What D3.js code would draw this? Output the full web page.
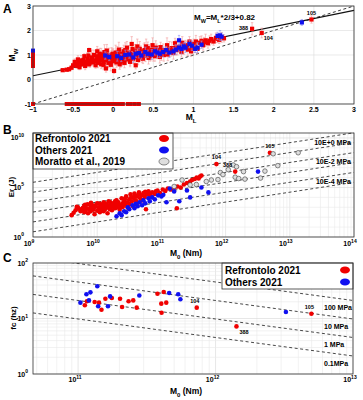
<!DOCTYPE html>
<html>
<head>
<meta charset="utf-8">
<script src="https://cdn.jsdelivr.net/npm/d3@7"></script>
<style>
  body { margin: 0; background: #fff; }
  text { font-family: "Liberation Sans", Arial, sans-serif; }
</style>
</head>
<body>
<svg id="fig" width="363" height="400"></svg>
<script>
// ---------- Panel A : Mw vs ML  ([ML, Mw, error]) ----------
const redA = [
  [-0.63,0.38,0.05],[-0.58,0.40,0.05],[-0.55,0.42,0.08],[-0.50,0.58,0.10],[-0.47,0.65,0.12],
  [-0.45,0.55,0.08],[-0.43,0.70,0.15],[-0.40,0.62,0.10],[-0.40,0.78,0.20],[-0.38,0.68,0.12],
  [-0.36,0.95,0.10],[-0.35,0.55,0.15],[-0.33,0.72,0.18],[-0.32,0.85,0.25],[-0.30,0.62,0.10],
  [-0.30,1.20,0.08],[-0.28,0.78,0.20],[-0.27,0.90,0.30],[-0.25,0.70,0.15],[-0.24,1.00,0.20],
  [-0.22,0.58,0.12],[-0.21,0.82,0.25],[-0.20,0.95,0.30],[-0.19,0.68,0.20],[-0.18,0.75,0.15],
  [-0.17,1.05,0.22],[-0.16,0.88,0.28],[-0.15,0.62,0.18],[-0.14,0.80,0.30],[-0.13,0.95,0.20],
  [-0.12,0.72,0.25],[-0.11,1.12,0.30],[-0.10,0.85,0.20],[-0.09,0.45,0.15],[-0.08,0.78,0.25],
  [-0.07,0.92,0.30],[-0.06,0.68,0.20],[-0.05,1.00,0.28],[-0.04,0.82,0.20],[-0.03,0.60,0.25],
  [-0.02,0.88,0.30],[-0.01,1.05,0.20],[0.00,0.75,0.25],[0.00,0.95,0.30],[0.01,0.35,0.10],
  [0.02,0.85,0.25],[0.03,1.10,0.30],[0.04,0.70,0.20],[0.05,0.92,0.28],[0.06,0.80,0.22],
  [0.07,1.22,0.30],[0.08,0.62,0.20],[0.08,0.98,0.25],[0.09,0.86,0.30],[0.10,1.05,0.25],
  [0.11,0.75,0.20],[0.12,0.90,0.30],[0.13,1.15,0.25],[0.14,0.68,0.20],[0.15,0.95,0.30],
  [0.16,0.82,0.22],[0.17,1.30,0.25],[0.18,1.00,0.30],[0.19,0.88,0.20],[0.20,1.10,0.28],
  [0.21,0.72,0.20],[0.22,0.96,0.25],[0.23,1.45,0.30],[0.24,1.05,0.25],[0.25,0.85,0.20],
  [0.26,0.92,0.30],[0.27,1.18,0.25],[0.28,0.58,0.15],[0.29,1.00,0.25],[0.30,1.08,0.30],
  [0.31,0.80,0.20],[0.32,0.95,0.25],[0.33,1.25,0.30],[0.35,1.02,0.25],[0.36,0.90,0.20],
  [0.38,1.15,0.30],[0.40,0.98,0.25],[0.41,1.35,0.30],[0.42,1.05,0.20],[0.44,0.88,0.25],
  [0.45,1.12,0.30],[0.47,1.00,0.20],[0.48,1.22,0.25],[0.50,1.05,0.30],[0.52,0.95,0.20],
  [0.53,1.30,0.28],[0.55,1.10,0.25],[0.57,1.18,0.20],[0.58,0.92,0.25],[0.60,1.08,0.30],
  [0.62,1.20,0.25],[0.65,1.12,0.20],[0.68,1.02,0.25],[0.70,1.25,0.30],[0.72,1.15,0.20],
  [0.75,1.08,0.25],[0.78,1.30,0.30],[0.80,1.20,0.20],[0.83,1.35,0.25],[0.85,1.12,0.20],
  [0.88,1.28,0.25],[0.90,1.40,0.20],[0.93,1.22,0.25],[0.95,1.55,0.20],[0.98,1.30,0.25],
  [1.00,1.45,0.20],[1.02,1.35,0.25],[1.05,1.25,0.20],[1.08,1.50,0.25],[1.10,1.58,0.20],
  [1.12,1.40,0.20],[1.15,1.60,0.25],[1.18,1.48,0.20],[1.22,1.65,0.20],[1.25,1.55,0.15],
  [1.28,1.70,0.20],[1.32,1.62,0.15],[1.35,1.72,0.20],[1.38,1.68,0.15],
  [-0.52,0.48,0.08],[-0.48,0.72,0.12],[-0.44,0.82,0.15],[-0.42,0.50,0.10],[-0.37,0.80,0.20],
  [-0.34,0.66,0.15],[-0.31,0.98,0.25],[-0.29,0.70,0.20],[-0.26,0.84,0.25],[-0.23,0.76,0.20],
  [-0.20,1.15,0.20],[-0.18,0.90,0.30],[-0.15,1.02,0.25],[-0.12,0.60,0.20],[-0.10,0.95,0.30],
  [-0.08,1.18,0.25],[-0.06,0.85,0.30],[-0.04,0.72,0.20],[-0.02,1.00,0.30],[0.01,0.90,0.25],
  [0.03,0.78,0.20],[0.05,1.05,0.30],[0.07,0.88,0.25],[0.09,0.70,0.20],[0.11,1.00,0.30],
  [0.13,0.85,0.25],[0.15,1.20,0.30],[0.17,0.92,0.20],[0.19,1.05,0.25],[0.21,0.88,0.30],
  [0.24,1.25,0.25],[0.27,0.95,0.20],[0.30,1.35,0.30],[0.34,1.12,0.25],[0.37,0.85,0.20],
  [0.39,1.20,0.30],[0.43,1.28,0.25],[0.46,0.95,0.20],[0.49,1.40,0.30],[0.54,1.20,0.25],
  [0.59,1.32,0.20],[0.63,1.00,0.25],[0.67,1.40,0.30],[0.73,1.28,0.25],[0.77,1.48,0.20],
  [0.86,1.50,0.25],[0.92,1.35,0.20],[0.97,1.15,0.20],[1.03,1.55,0.25],[1.13,1.52,0.20],
  [1.20,1.58,0.20],[1.30,1.66,0.15],
  [1.73,2.07,0.25],[1.85,1.90,0.20],[2.47,2.45,0.15]
];
const blueA = [
  [-0.10,0.98,0.15],[-0.05,0.92,0.15],[0.05,0.95,0.20],[0.10,0.88,0.15],[0.15,1.00,0.20],
  [0.20,1.02,0.15],[0.25,0.90,0.20],[0.28,1.05,0.15],[0.32,1.08,0.20],[0.35,0.98,0.15],
  [0.40,1.12,0.20],[0.43,1.05,0.15],[0.48,1.02,0.20],[0.52,1.15,0.15],[0.55,1.10,0.20],
  [0.58,1.05,0.15],[0.62,1.12,0.20],[0.66,1.20,0.15],[0.70,1.10,0.20],[0.75,1.15,0.15],
  [0.78,1.22,0.20],[0.82,1.60,0.20],[0.82,1.30,0.15],[0.85,1.25,0.20],[0.88,1.35,0.15],
  [0.90,1.30,0.20],[0.95,1.45,0.15],[0.98,1.38,0.20],[1.02,1.25,0.15],[1.05,1.30,0.20],
  [1.10,1.42,0.15],[1.30,1.78,0.15],[1.33,1.80,0.20],[1.35,1.75,0.15],[2.35,2.33,0.12]
];
const redA_noML = [0.55,0.60,0.65,0.70,0.75,0.80,0.85,0.90,0.95,1.00,1.05,-1.0];   // Mw with no ML
const blueA_noML = [1.18];
const redA_noMw = [-0.58,-0.55,-0.52,-0.49,-0.46,-0.43,-0.40,-0.37,-0.34,-0.31,-0.28,-0.25,
  -0.22,-0.19,-0.16,-0.13,-0.10,-0.07,-0.04,-0.01,0.02,0.05,0.08,0.12,0.18,0.22,0.27,0.32]; // ML with no Mw
const labelsA = [["388",1.73,2.07],["104",1.85,1.90],["105",2.47,2.45]];

// ---------- Panel B : Er vs M0 ----------
const redB = [
  [4.0e9,160],[4.3e9,280],[4.6e9,500],[4.8e9,1100],[5.0e9,1000],[5.2e9,710],[5.5e9,400],
  [5.8e9,560],[6.0e9,890],[6.3e9,320],[6.3e9,1400],[6.6e9,500],[6.9e9,790],[7.1e9,2000],
  [7.2e9,250],[7.6e9,630],[7.9e9,1100],[7.9e9,400],[8.3e9,1600],[8.7e9,560],[8.9e9,890],
  [9.1e9,200],[9.5e9,1260],[1.0e10,450],[1.0e10,2500],[1.05e10,710],[1.07e10,1000],
  [1.1e10,320],[1.15e10,1800],[1.17e10,560],[1.2e10,890],[1.26e10,3200],[1.26e10,400],
  [1.32e10,1260],[1.35e10,710],[1.41e10,2000],[1.45e10,250],[1.48e10,1000],[1.51e10,4000],
  [1.58e10,630],[1.58e10,1600],[1.66e10,1100],[1.7e10,500],[1.78e10,2500],[1.82e10,1400],
  [1.9e10,800],[2.0e10,5000],[2.0e10,2000],[2.1e10,1000],[2.14e10,3200],[2.24e10,560],
  [2.3e10,1600],[2.4e10,8000],[2.5e10,2500],[2.5e10,1100],[2.63e10,4000],[2.75e10,1800],
  [2.82e10,12600],[2.95e10,3200],[3.0e10,900],[3.16e10,6300],[3.16e10,2200],[3.3e10,20000],
  [3.47e10,4000],[3.55e10,1400],[3.7e10,9000],[3.8e10,25000],[4.0e10,5000],[4.17e10,12600],
  [4.27e10,2800],[4.47e10,32000],[4.68e10,8000],[4.9e10,16000],[5.0e10,5000],[5.25e10,28000],
  [5.5e10,11000],[5.75e10,630],[6.0e10,20000],[6.3e10,40000],[6.8e10,14000],[7.2e10,32000],
  [7.9e10,22000],[8.7e10,50000],[9.5e10,28000],[1.05e11,63000],[1.15e11,45000],[1.26e11,80000],
  [1.41e11,63000],[1.6e11,100000],[1.74e11,800],[1.78e11,126000],[2.0e11,100000],
  [2.24e11,200000],[2.5e11,280000],[2.8e11,400000],[3.0e11,560000],[3.3e11,710000],
  [3.55e11,1.0e6],[3.8e11,800000],[4.0e11,1.26e6],[4.2e11,1.6e6],
  [6.5e9,1800],[8.0e9,2800],[9.0e9,1500],[1.1e10,2200],[1.3e10,2600],[1.6e10,3200],
  [1.9e10,4000],[2.2e10,1300],[2.7e10,7000],[3.4e10,11000],[3.9e10,16000],[4.5e10,20000],
  [5.6e10,36000],[6.5e10,25000],[8.2e10,40000],
  [7.2e11,2.3e7],[1.41e12,4.0e6],[4.9e12,3.2e8]
];
const blueB = [
  [2.0e10,126],[2.24e10,250],[2.4e10,160],[2.63e10,400],[2.82e10,320],[3.0e10,1000],
  [3.16e10,630],[3.55e10,1600],[3.8e10,800],[4.0e10,2200],[4.27e10,1260],[4.57e10,3200],
  [5.0e10,1600],[5.25e10,5000],[5.6e10,2500],[6.3e10,8000],[6.6e10,4000],[7.2e10,10000],
  [7.9e10,6300],[8.9e10,16000],[1.0e11,12600],[1.07e11,18000],[1.2e11,3200],[1.35e11,80000],
  [1.58e11,40000],[1.9e11,4000],[2.5e11,50000],[2.8e11,10000],[4.2e11,100000],[5.4e11,32000],
  [3.2e12,4.0e6]
];
const greyB = [
  [1.58e11,126000],[2.1e11,570000],[2.8e11,180000],[3.5e11,200000],[5.0e11,400000],
  [6.0e11,570000],[7.6e11,630000],[8.3e11,3.2e6],[9.1e11,2.0e6],[1.1e12,6.3e6],
  [1.32e12,1.86e7],[1.48e12,1.26e7],[1.41e12,1.1e6],[1.6e12,800000],[1.9e12,4.0e6],
  [2.0e12,700000],[3.5e12,890000],[4.1e12,4.5e6],[5.5e12,2.5e8],[6.5e12,1.6e7],[1.35e13,3.2e8]
];
const labelsB = [["104",7.2e11,2.3e7],["388",1.41e12,4.0e6],["105",4.9e12,3.2e8]];
const stressB = [10, 1, 0.1, 0.01, 0.001, 0.0001];           // apparent stress, MPa
const stressLabelsB = [["10E+0 MPa",1],["10E-2 MPa",0.01],["10E-4 MPa",0.0001]];

// ---------- Panel C : fc vs M0 ----------
const redC = [
  [1.12e11,17.3],[1.16e11,20.4],[1.32e11,19.8],[1.42e11,19.3],[1.48e11,14.4],[1.58e11,22.7],
  [1.76e11,23.4],[2.02e11,22.7],[2.09e11,16.1],[2.33e11,20.4],[2.52e11,21.2],[2.67e11,15.7],
  [3.78e11,28.0],[4.03e11,18.5],[4.05e11,12.7],[4.2e11,30.0],[4.38e11,19.3],
  [7.3e11,15.7],[1.42e12,7.2],[4.98e12,12.2]
];
const blueC = [
  [1.04e11,19.3],[1.15e11,27.3],[1.23e11,29.6],[1.38e11,38.0],[1.40e11,16.6],[1.2e11,21.2],
  [1.65e11,16.6],[1.71e11,25.0],[2.79e11,26.0],[4.6e11,28.8],[5.35e11,27.3],[5.55e11,22.2],
  [3.25e12,13.1]
];
const labelsC = [["104",7.3e11,15.7],["388",1.42e12,7.2],["105",4.98e12,12.2]];
const stressC = [100, 10, 1, 0.1];                              // stress drop, MPa
const stressLabelsC = ["100 MPa","10 MPa","1 MPa","0.1MPa"];

const RED = "#f00000", BLUE = "#1010f0";
const svg = d3.select("#fig");

// superscript tick label like 10^5
function powLabel(t, e) {
  t.text("10");
  t.append("tspan").attr("dy", -3.5).attr("font-size", 5).text(e);
}

function logGrid(g, x, y) {
  const [x0, x1] = x.domain(), [y0, y1] = y.domain();
  const [px0, px1] = x.range(), [py0, py1] = y.range();
  const minor = [];
  for (let k = Math.floor(Math.log10(x0)); k <= Math.ceil(Math.log10(x1)); k++)
    for (let m = 1; m < 10; m++) { const v = m * 10 ** k; if (v >= x0 && v <= x1) minor.push([v, m === 1]); }
  g.selectAll(".gx").data(minor).join("line")
    .attr("x1", d => x(d[0])).attr("x2", d => x(d[0])).attr("y1", py0).attr("y2", py1)
    .attr("stroke", d => d[1] ? "#d6d6d6" : "#e9e9e9").attr("stroke-width", 0.6);
  const minorY = [];
  const span = Math.log10(y1) - Math.log10(y0);
  for (let k = Math.floor(Math.log10(y0)); k <= Math.ceil(Math.log10(y1)); k++)
    for (let m = 1; m < 10; m++) {
      const v = m * 10 ** k;
      if (v < y0 || v > y1) continue;
      if (span > 6 && m !== 1) continue;
      minorY.push([v, span > 6 ? k % 5 === 0 : m === 1]);
    }
  g.selectAll(".gy").data(minorY).join("line")
    .attr("y1", d => y(d[0])).attr("y2", d => y(d[0])).attr("x1", px0).attr("x2", px1)
    .attr("stroke", d => d[1] ? "#d6d6d6" : "#e9e9e9").attr("stroke-width", 0.6);
}

function box(g, x, y) {
  const [px0, px1] = x.range(), [py0, py1] = y.range();
  g.append("rect").attr("x", px0).attr("y", py1).attr("width", px1 - px0).attr("height", py0 - py1)
    .attr("fill", "none").attr("stroke", "#333").attr("stroke-width", 0.8);
}

function panelLetter(t, px, py) {
  svg.append("text").attr("x", px).attr("y", py).attr("font-size", 12).attr("font-weight", "bold").text(t);
}

function subLabel(g, px, py, main, sub, rest, rot) {
  const t = g.append("text").attr("font-size", 8.5).attr("font-weight", "bold").attr("text-anchor", "middle")
    .attr("transform", `translate(${px},${py})` + (rot ? " rotate(-90)" : ""));
  t.append("tspan").text(main);
  t.append("tspan").attr("dy", 2.5).attr("font-size", 6).text(sub);
  if (rest) t.append("tspan").attr("dy", -2.5).text(rest);
}

function square(g, data, x, y, color, errColor) {
  g.selectAll(null).data(data).join("path")
    .attr("d", d => {
      const cx = x(d[0]), t = y(d[1] + d[2]), b = y(d[1] - d[2]);
      return `M${cx},${t}V${b}M${cx - 1.2},${t}H${cx + 1.2}M${cx - 1.2},${b}H${cx + 1.2}`;
    })
    .attr("stroke", errColor).attr("stroke-width", 0.6).attr("fill", "none");
  g.selectAll(null).data(data).join("rect")
    .attr("x", d => x(d[0]) - 2.1).attr("y", d => y(d[1]) - 2.1).attr("width", 4.2).attr("height", 4.2)
    .attr("fill", color);
}

// ======================= Panel A =======================
{
  const x = d3.scaleLinear([-1, 3], [33, 354]);
  const y = d3.scaleLinear([-1, 3], [104, 6]);
  const g = svg.append("g");
  const xt = d3.range(-1, 3.01, 0.5), yt = [-1, 0, 1, 2, 3];
  g.selectAll(".gx").data(xt).join("line").attr("x1", x).attr("x2", x).attr("y1", 6).attr("y2", 104)
    .attr("stroke", "#dcdcdc").attr("stroke-width", 0.6);
  g.selectAll(".gy").data(yt).join("line").attr("y1", y).attr("y2", y).attr("x1", 33).attr("x2", 354)
    .attr("stroke", "#dcdcdc").attr("stroke-width", 0.6);

  // 1:1 line and fit Mw = ML*2/3 + 0.82
  g.append("line").attr("x1", x(-1)).attr("y1", y(-1)).attr("x2", x(3)).attr("y2", y(3))
    .attr("stroke", "#222").attr("stroke-width", 0.9).attr("stroke-dasharray", "3,2.5");
  const fit = ml => ml * 2 / 3 + 0.82;
  g.append("line").attr("x1", x(-1)).attr("y1", y(fit(-1))).attr("x2", x(3)).attr("y2", y(fit(3)))
    .attr("stroke", "#111").attr("stroke-width", 1.1);

  square(g, redA, x, y, RED, "#f29a9a");
  square(g, blueA, x, y, BLUE, "#8f8ff2");
  g.selectAll(null).data(redA_noML).join("rect")
    .attr("x", x(-1) - 2).attr("y", d => y(d) - 2).attr("width", 4).attr("height", 4).attr("fill", RED);
  g.selectAll(null).data(blueA_noML).join("rect")
    .attr("x", x(-1) - 2).attr("y", d => y(d) - 2).attr("width", 4).attr("height", 4).attr("fill", BLUE);
  g.selectAll(null).data(redA_noMw).join("rect")
    .attr("x", d => x(d) - 2).attr("y", y(-1) - 2).attr("width", 4).attr("height", 4).attr("fill", RED);

  g.selectAll(null).data(labelsA).join("text")
    .attr("x", d => x(d[1]) + (d[0] === "104" ? 2 : d[0] === "388" ? -4 : 0))
    .attr("y", d => y(d[2]) + (d[0] === "104" ? 7 : d[0] === "388" ? 1 : -4))
    .attr("text-anchor", d => d[0] === "104" ? "start" : d[0] === "388" ? "end" : "middle")
    .attr("font-size", 5.5).attr("font-weight", "bold").text(d => d[0]);

  const eq = g.append("text").attr("x", 194).attr("y", 20).attr("font-size", 8).attr("font-weight", "bold");
  eq.append("tspan").text("M");
  eq.append("tspan").attr("dy", 2.5).attr("font-size", 5.5).text("W");
  eq.append("tspan").attr("dy", -2.5).text("=M");
  eq.append("tspan").attr("dy", 2.5).attr("font-size", 5.5).text("L");
  eq.append("tspan").attr("dy", -2.5).text("*2/3+0.82");

  box(g, x, y);
  g.selectAll(".xl").data(xt).join("text").attr("x", x).attr("y", 112).attr("text-anchor", "middle")
    .attr("font-size", 7).attr("font-weight", "bold").text(d => d3.format("")(d));
  g.selectAll(".yl").data(yt).join("text").attr("x", 31).attr("y", d => y(d) + 2.5).attr("text-anchor", "end")
    .attr("font-size", 7).attr("font-weight", "bold").text(d => d);
  subLabel(g, 191, 120, "M", "L", "", false);
  subLabel(g, 15, 55, "M", "W", "", true);
  panelLetter("A", 3, 13);
}

// ======================= Panel B =======================
{
  const x = d3.scaleLog([1e9, 1e14], [33, 354]);
  const y = d3.scaleLog([1, 10 ** 10.5], [237, 133]);
  const g = svg.append("g");
  logGrid(g, x, y);
  const mu = 3e10;
  g.selectAll(null).data(stressB).join("line")
    .attr("x1", x(1e9)).attr("y1", d => y(d * 1e6 / mu * 1e9))
    .attr("x2", x(1e14)).attr("y2", d => y(d * 1e6 / mu * 1e14))
    .attr("stroke", "#333").attr("stroke-width", 0.9).attr("stroke-dasharray", "3,2.5");
  g.selectAll(null).data(stressLabelsB).join("text")
    .attr("x", 351).attr("y", d => y(d[1] * 1e6 / mu * 1e14) + 2)
    .attr("text-anchor", "end").attr("font-size", 7).attr("font-weight", "bold").text(d => d[0]);

  g.selectAll(null).data(redB).join("circle").attr("cx", d => x(d[0])).attr("cy", d => y(d[1]))
    .attr("r", 2.3).attr("fill", RED);
  g.selectAll(null).data(blueB).join("circle").attr("cx", d => x(d[0])).attr("cy", d => y(d[1]))
    .attr("r", 2.3).attr("fill", BLUE);
  g.selectAll(null).data(greyB).join("circle").attr("cx", d => x(d[0])).attr("cy", d => y(d[1]))
    .attr("r", 2.3).attr("fill", "#dedede").attr("stroke", "#555").attr("stroke-width", 0.7);
  g.selectAll(null).data(labelsB).join("text")
    .attr("x", d => x(d[1]) + (d[0] === "388" ? -3 : 0)).attr("y", d => y(d[2]) - 5)
    .attr("text-anchor", d => d[0] === "388" ? "end" : "middle")
    .attr("font-size", 5.5).attr("font-weight", "bold").text(d => d[0]);

  // legend
  const lg = g.append("g");
  lg.append("rect").attr("x", 33).attr("y", 133).attr("width", 140).attr("height", 36)
    .attr("fill", "#fff").attr("stroke", "#333").attr("stroke-width", 0.8);
  const items = [["Refrontolo 2021", RED, "none"], ["Others 2021", BLUE, "none"], ["Moratto et al., 2019", "#dedede", "#555"]];
  items.forEach((it, i) => {
    lg.append("text").attr("x", 35).attr("y", 142 + i * 11.5).attr("font-size", 10).attr("font-weight", "bold").text(it[0]);
    lg.append("ellipse").attr("cx", 164).attr("cy", 138.5 + i * 11.5).attr("rx", 5).attr("ry", 3.5)
      .attr("fill", it[1]).attr("stroke", it[2]).attr("stroke-width", 0.7);
  });

  box(g, x, y);
  const xt = [1e9, 1e10, 1e11, 1e12, 1e13, 1e14];
  xt.forEach(v => powLabel(g.append("text").attr("x", x(v) - 4).attr("y", 246).attr("text-anchor", "middle")
    .attr("font-size", 7).attr("font-weight", "bold"), Math.round(Math.log10(v))));
  [1, 1e5, 1e10].forEach(v => powLabel(g.append("text").attr("x", 24).attr("y", y(v) + 2.5).attr("text-anchor", "end")
    .attr("font-size", 7).attr("font-weight", "bold"), Math.round(Math.log10(v))));
  subLabel(g, 186, 256, "M", "0", " (Nm)", false);
  g.append("text").attr("transform", "translate(14,187) rotate(-90)").attr("text-anchor", "middle")
    .attr("font-size", 8).attr("font-weight", "bold").text("Er (J)");
  panelLetter("B", 3, 134);
}

// ======================= Panel C =======================
{
  const x = d3.scaleLog([4.7e10, 1e13], [33, 353]);
  const y = d3.scaleLog([1, 100], [374, 263]);
  const g = svg.append("g");
  logGrid(g, x, y);
  const beta = 2000;                  // shear wave speed, m/s (Brune)
  const fc = (ds, m0) => 0.372 * beta * Math.cbrt(16 * ds * 1e6 / (7 * m0));
  g.append("clipPath").attr("id", "clipC").append("rect").attr("x", 33).attr("y", 263).attr("width", 320).attr("height", 111);
  g.append("g").attr("clip-path", "url(#clipC)").selectAll(null).data(stressC).join("line")
    .attr("x1", x(4.7e10)).attr("y1", d => y(fc(d, 4.7e10)))
    .attr("x2", x(1e13)).attr("y2", d => y(fc(d, 1e13)))
    .attr("stroke", "#333").attr("stroke-width", 0.9).attr("stroke-dasharray", "3,2.5");
  g.selectAll(null).data(stressLabelsC).join("text")
    .attr("x", 324).attr("y", (d, i) => y(fc(stressC[i], 1e13)) + 10)
    .attr("font-size", 7).attr("font-weight", "bold").text(d => d);

  g.selectAll(null).data(redC).join("circle").attr("cx", d => x(d[0])).attr("cy", d => y(d[1]))
    .attr("r", 2.3).attr("fill", RED);
  g.selectAll(null).data(blueC).join("circle").attr("cx", d => x(d[0])).attr("cy", d => y(d[1]))
    .attr("r", 2.3).attr("fill", BLUE);
  g.selectAll(null).data(labelsC).join("text")
    .attr("x", d => x(d[1]) + (d[0] === "388" ? 3 : -2)).attr("y", d => y(d[2]) + (d[0] === "388" ? 8 : -5))
    .attr("text-anchor", d => d[0] === "388" ? "start" : "middle")
    .attr("font-size", 5.5).attr("font-weight", "bold").text(d => d[0]);

  const lg = g.append("g");
  lg.append("rect").attr("x", 222).attr("y", 263).attr("width", 131).attr("height", 26)
    .attr("fill", "#fff").attr("stroke", "#333").attr("stroke-width", 0.8);
  [["Refrontolo 2021", RED], ["Others 2021", BLUE]].forEach((it, i) => {
    lg.append("text").attr("x", 225).attr("y", 273.5 + i * 12).attr("font-size", 10).attr("font-weight", "bold").text(it[0]);
    lg.append("ellipse").attr("cx", 345).attr("cy", 270 + i * 12).attr("rx", 5).attr("ry", 3.5).attr("fill", it[1]);
  });

  box(g, x, y);
  [1e11, 1e12, 1e13].forEach(v => powLabel(g.append("text").attr("x", x(v) - 3).attr("y", 382).attr("text-anchor", "middle")
    .attr("font-size", 7).attr("font-weight", "bold"), Math.round(Math.log10(v))));
  [1, 10, 100].forEach(v => powLabel(g.append("text").attr("x", 28).attr("y", y(v) + 2.5).attr("text-anchor", "end")
    .attr("font-size", 7).attr("font-weight", "bold"), Math.round(Math.log10(v))));
  subLabel(g, 186, 394, "M", "0", " (Nm)", false);
  g.append("text").attr("transform", "translate(16,318) rotate(-90)").attr("text-anchor", "middle")
    .attr("font-size", 8).attr("font-weight", "bold").text("fc (hz)");
  panelLetter("C", 3, 262);
}
</script>
</body>
</html>
